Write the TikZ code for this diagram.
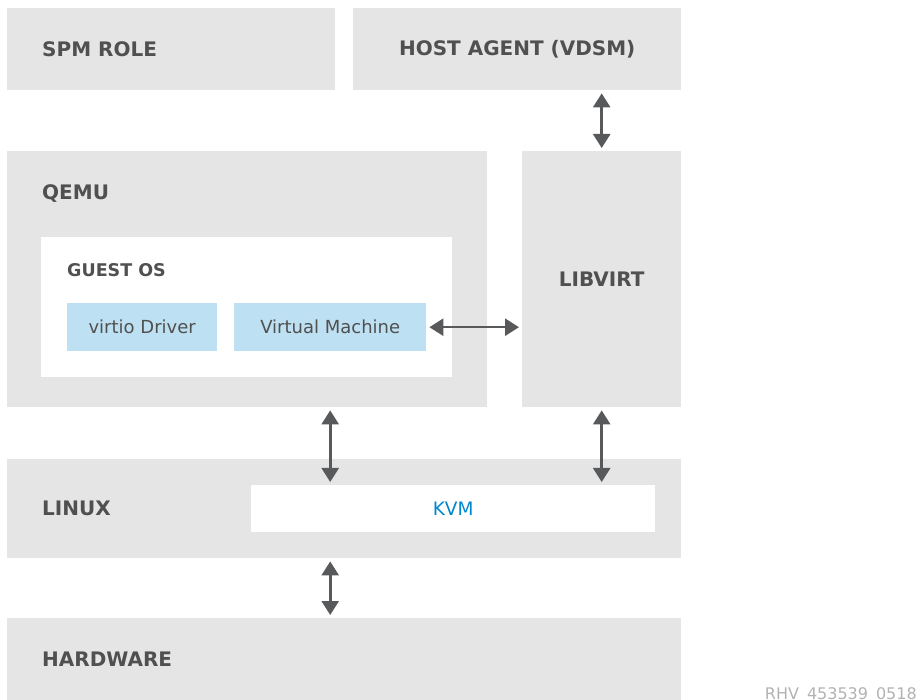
\documentclass[tikz,border=0pt]{standalone}
\usepackage{fontspec}
\setmainfont{DejaVu Sans}
\usetikzlibrary{arrows.meta,positioning}
\definecolor{boxgray}{HTML}{E5E5E5}
\definecolor{vmblue}{HTML}{BEE0F3}
\definecolor{txtgray}{HTML}{505050}
\definecolor{kvmblue}{HTML}{0088CE}
\definecolor{arrgray}{HTML}{58595B}
\tikzset{
  layer/.style={rectangle, fill=boxgray, inner sep=0pt, anchor=north west},
  inner/.style={rectangle, fill=white, inner sep=0pt, anchor=north west},
  part/.style={rectangle, fill=vmblue, inner sep=0pt, anchor=north west,
    font=\fontsize{18}{21}\selectfont, text=txtgray},
  heading/.style={inner sep=0pt, font=\bfseries\fontsize{20}{23}\selectfont, text=txtgray},
  subheading/.style={inner sep=0pt, font=\bfseries\fontsize{17.5}{20}\selectfont, text=txtgray},
  link/.style={draw=arrgray, line width=2.6pt, shorten <=3pt, shorten >=3pt,
    {Triangle[width=17pt,length=14pt]}-{Triangle[width=17pt,length=14pt]}}
}
\begin{document}
\begin{tikzpicture}[x=1pt, y=-1pt]
  \useasboundingbox (0,0) rectangle (919,700);
  % top row
  \node[layer, minimum width=328pt, minimum height=82pt] (spm) at (7,8) {};
  \node[heading, anchor=west, right=35pt of spm.west] (spmlabel) {SPM ROLE};
  \node[layer, minimum width=328pt, minimum height=82pt, heading, anchor=north west] (host) at (353,8) {HOST AGENT (VDSM)};
  % qemu and libvirt
  \node[layer, minimum width=480pt, minimum height=256pt] (qemu) at (7,151) {};
  \node[heading, anchor=west] (qemulabel) at (42,194) {QEMU};
  \node[inner, minimum width=411pt, minimum height=140pt] (guest) at (41,237) {};
  \node[subheading, anchor=west] (guestlabel) at (67,270) {GUEST OS};
  \node[part, minimum width=150pt, minimum height=48pt] (virtio) at (67,303) {virtio Driver};
  \node[part, minimum width=192pt, minimum height=48pt] (vm) at (234,303) {Virtual Machine};
  \node[layer, minimum width=159pt, minimum height=256pt, heading, anchor=north west] (libvirt) at (522,151) {LIBVIRT};
  % linux and hardware
  \node[layer, minimum width=674pt, minimum height=99pt] (linux) at (7,459) {};
  \node[heading, anchor=west, right=35pt of linux.west] (linuxlabel) {LINUX};
  \node[inner, minimum width=404pt, minimum height=47pt, text=kvmblue,
    font=\fontsize{18.5}{21}\selectfont] (kvm) at (251,485) {KVM};
  \node[layer, minimum width=674pt, minimum height=82pt] (hw) at (7,618) {};
  \node[heading, anchor=west, right=35pt of hw.west] (hwlabel) {HARDWARE};
  \node[anchor=base east, inner sep=0pt, text=black!30,
    font=\fontsize{16}{18}\selectfont] (tag) at (917,699) {RHV\_453539\_0518};
  % connectors
  \path[link] (libvirt.north |- host.south) -- (libvirt.north);
  \path[link] (vm.east) -- (vm.east -| libvirt.west);
  \path[link] (vm |- qemu.south) -- (vm |- kvm.north);
  \path[link] (libvirt.south) -- (libvirt.south |- kvm.north);
  \path[link] (vm |- linux.south) -- (vm |- hw.north);
\end{tikzpicture}
\end{document}
